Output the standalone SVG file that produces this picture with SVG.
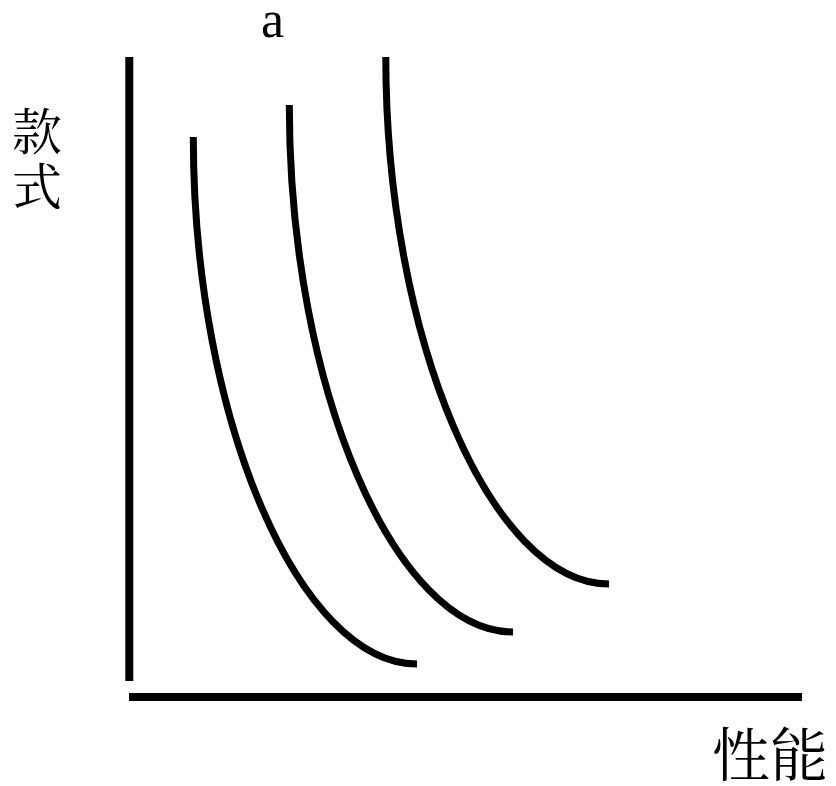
<svg xmlns="http://www.w3.org/2000/svg" width="836" height="786" viewBox="0 0 836 786">
<style>
.axis{stroke:#000;stroke-width:8;fill:none}
.curve{stroke:#000;stroke-width:7;fill:none}
.cjk{font-family:"Noto Serif CJK SC","Noto Sans CJK SC",serif;fill:#000}
.lat{font-family:"Liberation Serif",serif;fill:#000}
</style>
<rect width="836" height="786" fill="#fff"/>
<g id="axes">
<line class="axis" x1="129.3" y1="57" x2="129.3" y2="681"/>
<line class="axis" x1="129" y1="697" x2="802" y2="697"/>
</g>
<g id="connectors">
<path id="curve1" class="curve" d="M193.3,137 C193.3,420 300,664 417,664"/>
<path id="curve2" class="curve" d="M289.3,105 C289.3,390 396,632 513,632"/>
<path id="curve3" class="curve" d="M385.8,57 C385.8,340 492,584 609,584"/>
</g>
<g id="labels">
<text class="lat" x="261" y="37" font-size="52">a</text>
<text class="cjk" x="12" y="150" font-size="50">款</text>
<text class="cjk" x="12" y="205" font-size="50">式</text>
<text class="cjk" x="712" y="776" font-size="58">性能</text>
</g>
</svg>
